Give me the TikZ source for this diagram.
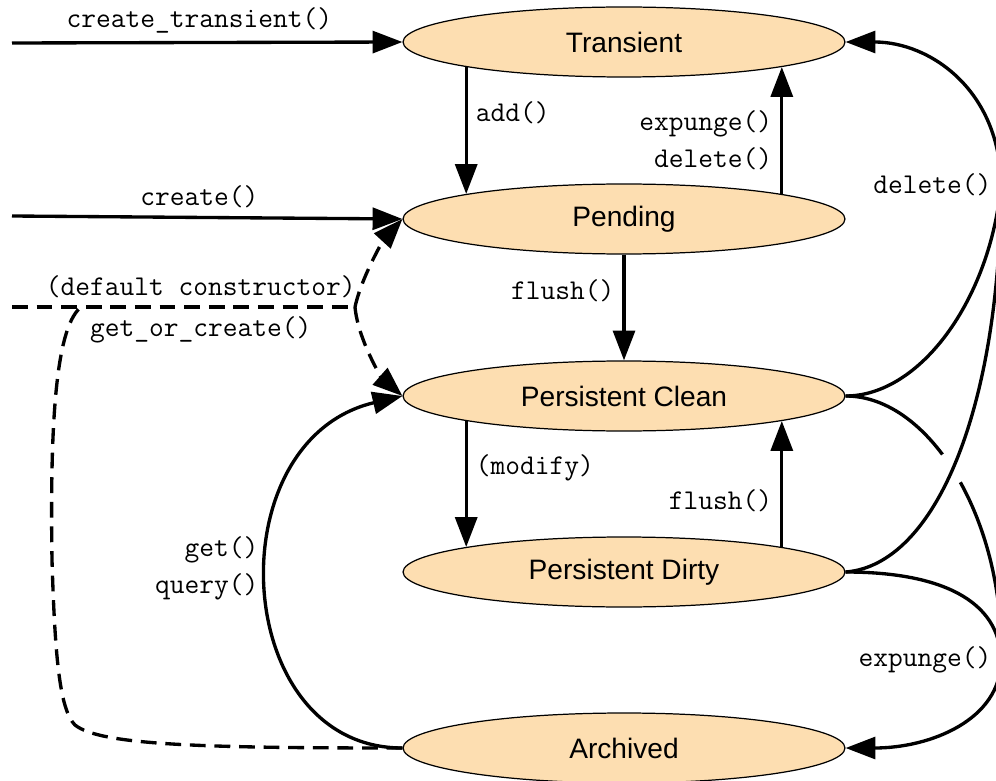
\documentclass[tikz,border=0pt]{standalone}
\usepackage{fontspec}
\setsansfont{Liberation Sans}
\usepackage{tikz}
\usetikzlibrary{arrows.meta,shapes.geometric}

\definecolor{statefill}{RGB}{253,222,177}

\begin{document}
\begin{tikzpicture}[x=0.02cm,y=-0.02cm,
  state/.style={ellipse,draw,line width=0.7pt,fill=statefill,
    minimum width=8.84cm,minimum height=1.4cm,inner sep=0pt,
    font=\fontsize{16}{19}\selectfont\sffamily},
  link/.style={line width=1.9pt},
  arr/.style={link,-{Triangle[length=17pt,width=12.5pt]}},
  dsh/.style={dash pattern=on 9pt off 5pt},
  lbl/.style={font=\fontsize{16.3}{21}\selectfont\ttfamily,inner sep=4.5pt}]
\useasboundingbox (0,0) rectangle (996,780);

% states
\node[state] (Transient) at (624,42) {Transient};
\node[state] (Pending) at (624,219) {Pending};
\node[state] (Clean) at (624,396) {Persistent Clean};
\node[state] (Dirty) at (624,572) {Persistent Dirty};
\node[state] (Archived) at (624,748) {Archived};

% free ends and junctions
\coordinate (ct) at (12,43);
\coordinate (cr) at (12,216);
\coordinate (dc) at (12,307);
\coordinate (split) at (355,307);
\coordinate (jdel) at (1001,185);
\coordinate (jexp) at (1001,660);

% entry on the left
\draw[arr] (ct) -- node[lbl,above,pos=0.48] {create\_transient()} (Transient.west);
\draw[arr] (cr) -- node[lbl,above,pos=0.48] {create()} (Pending.west);
\draw[link,dsh] (dc) -- node[lbl,above,pos=0.55] {(default constructor)}
  node[lbl,below,pos=0.55] {get\_or\_create()} (split);
\draw[arr,dsh] (split) .. controls (362,275) and (385,238) .. (Pending.west);
\draw[arr,dsh] (split) .. controls (358,340) and (382,378) .. (Clean.west);
\draw[link,dsh] (Archived.west) .. controls (200,748) and (100,745) .. (75,725)
  .. controls (60,710) and (55,660) .. (52,560)
  .. controls (50,430) and (55,330) .. (80,308);

% straight transitions
\draw[arr] (Transient.-171) -- node[lbl,right,pos=0.36] {add()} (Pending.171);
\draw[arr] (Pending.9) -- node[lbl,left,pos=0.42,align=right] {expunge()\\delete()} (Transient.-9);
\draw[arr] (Pending.south) -- node[lbl,left,pos=0.34] {flush()} (Clean.north);
\draw[arr] (Clean.-171) -- node[lbl,right,pos=0.37] {(modify)} (Dirty.171);
\draw[arr] (Dirty.9) -- node[lbl,left,pos=0.37] {flush()} (Clean.-9);

% get / query
\draw[arr] (Archived.west) .. controls (230,748) and (215,440) ..
  node[lbl,left,align=right,pos=0.54] {get()\\query()} (Clean.west);

% expunge on the right
\draw[arr] (jexp) node[lbl,left] {expunge()} .. controls (1001,720) and (930,748) .. (Archived.east);
\draw[link] (Clean.east) .. controls (930,396) and (1005,520) .. (jexp);
\draw[link] (Dirty.east) .. controls (940,572) and (1000,600) .. (jexp);

% gap where the lines cross
\fill[white] (952,468) circle[radius=0.33cm];

% delete on the right
\draw[arr] (jdel) node[lbl,left] {delete()} .. controls (1000,90) and (930,42) .. (Transient.east);
\draw[link] (Clean.east) .. controls (920,396) and (990,300) .. (jdel);
\draw[link] (Dirty.east) .. controls (935,565) and (1000,410) .. (jdel);
\end{tikzpicture}
\end{document}
